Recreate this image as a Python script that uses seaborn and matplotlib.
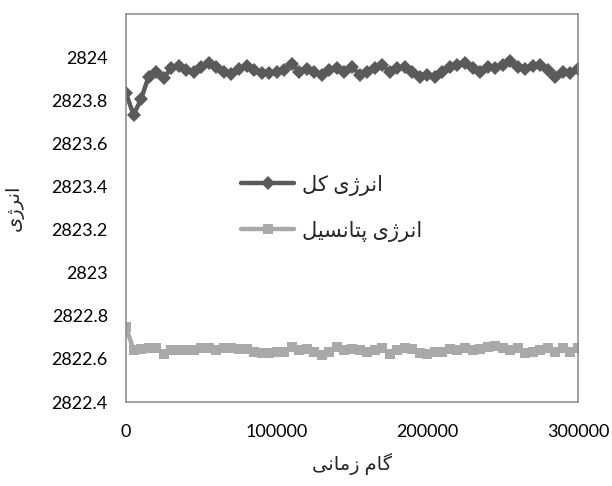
import numpy as np
import pandas as pd
import seaborn as sns
import matplotlib
matplotlib.use("Agg")
import matplotlib.pyplot as plt
from matplotlib.ticker import MultipleLocator

# ---- data -------------------------------------------------------------
steps = list(range(0, 300001, 5000))

total_energy = [
    2823.833, 2823.732, 2823.805, 2823.910, 2823.933, 2823.903, 2823.949,
    2823.960, 2823.941, 2823.933, 2823.956, 2823.972, 2823.954, 2823.933,
    2823.923, 2823.944, 2823.960, 2823.941, 2823.926, 2823.926, 2823.933,
    2823.941, 2823.969, 2823.933, 2823.944, 2823.929, 2823.918, 2823.938,
    2823.949, 2823.929, 2823.956, 2823.918, 2823.933, 2823.949, 2823.964,
    2823.933, 2823.949, 2823.954, 2823.929, 2823.910, 2823.918, 2823.910,
    2823.933, 2823.956, 2823.964, 2823.975, 2823.949, 2823.933, 2823.956,
    2823.949, 2823.964, 2823.980, 2823.956, 2823.944, 2823.960, 2823.964,
    2823.938, 2823.910, 2823.933, 2823.926, 2823.944,
]

potential_energy = [
    2822.748, 2822.642, 2822.646, 2822.650, 2822.650, 2822.624, 2822.639,
    2822.639, 2822.642, 2822.642, 2822.650, 2822.650, 2822.642, 2822.650,
    2822.650, 2822.646, 2822.646, 2822.630, 2822.627, 2822.627, 2822.630,
    2822.634, 2822.655, 2822.642, 2822.646, 2822.630, 2822.619, 2822.634,
    2822.655, 2822.642, 2822.646, 2822.639, 2822.634, 2822.642, 2822.650,
    2822.624, 2822.639, 2822.650, 2822.646, 2822.627, 2822.624, 2822.630,
    2822.634, 2822.646, 2822.639, 2822.650, 2822.642, 2822.646, 2822.655,
    2822.658, 2822.650, 2822.639, 2822.650, 2822.627, 2822.634, 2822.642,
    2822.650, 2822.634, 2822.650, 2822.634, 2822.650,
]

label_total = "انرژی کل"
label_potential = "انرژی پتانسیل"
x_title = "گام زمانی"
y_title = "انرژی"

x_ticks = [0, 100000, 200000, 300000]
y_ticks = [2822.4, 2822.6, 2822.8, 2823.0, 2823.2, 2823.4, 2823.6, 2823.8, 2824.0]
y_tick_labels = ["2822.4", "2822.6", "2822.8", "2823", "2823.2",
                 "2823.4", "2823.6", "2823.8", "2824"]

# ---- minimal Persian shaping (contextual forms + right-to-left order) ---
# letter: (isolated, final, initial, medial); None where the form is absent
FORMS = {
    "ا": ("\uFE8D", "\uFE8E", None, None),
    "ر": ("\uFEAD", "\uFEAE", None, None),
    "ز": ("\uFEAF", "\uFEB0", None, None),
    "ژ": ("\uFB8A", "\uFB8B", None, None),
    "ن": ("\uFEE5", "\uFEE6", "\uFEE7", "\uFEE8"),
    "ی": ("\uFBFC", "\uFBFD", "\uFBFE", "\uFBFF"),
    "ک": ("\uFB8E", "\uFB8F", "\uFB90", "\uFB91"),
    "ل": ("\uFEDD", "\uFEDE", "\uFEDF", "\uFEE0"),
    "پ": ("\uFB56", "\uFB57", "\uFB58", "\uFB59"),
    "ت": ("\uFE95", "\uFE96", "\uFE97", "\uFE98"),
    "س": ("\uFEB1", "\uFEB2", "\uFEB3", "\uFEB4"),
    "م": ("\uFEE1", "\uFEE2", "\uFEE3", "\uFEE4"),
    "گ": ("\uFB92", "\uFB93", "\uFB94", "\uFB95"),
}


def joins_forward(ch):
    return ch in FORMS and FORMS[ch][2] is not None


def shape(text):
    out = []
    for i, ch in enumerate(text):
        if ch not in FORMS:
            out.append(ch)
            continue
        prev = text[i - 1] if i > 0 else ""
        nxt = text[i + 1] if i + 1 < len(text) else ""
        link_prev = joins_forward(prev)
        link_next = joins_forward(ch) and nxt in FORMS
        iso, fin, ini, med = FORMS[ch]
        if link_prev and link_next:
            out.append(med)
        elif link_prev:
            out.append(fin)
        elif link_next:
            out.append(ini)
        else:
            out.append(iso)
    return "".join(out)[::-1]


# ---- figure -------------------------------------------------------------
sns.set_theme(style="white")
plt.rcParams["font.family"] = ["Lato", "DejaVu Sans"]

df = pd.DataFrame({
    "step": steps * 2,
    "energy": total_energy + potential_energy,
    "series": [label_total] * len(steps) + [label_potential] * len(steps),
})

fig = plt.figure(figsize=(6.12, 4.86), dpi=100)
ax = fig.add_axes([126 / 612, 1 - 402 / 486, 452 / 612, 388 / 486])

sns.lineplot(data=df[df.series == label_total], x="step", y="energy",
             color="#5a5a5a", lw=3.2, marker="D", markersize=7,
             markeredgewidth=0, label=shape(label_total), ax=ax)
sns.lineplot(data=df[df.series == label_potential], x="step", y="energy",
             color="#a9a9a9", lw=3.2, marker="s", markersize=7,
             markeredgewidth=0, label=shape(label_potential), ax=ax)

ax.set_xlim(0, 300000)
ax.set_ylim(2822.4, 2824.2)
ax.set_xticks(x_ticks)
ax.set_xticklabels([str(t) for t in x_ticks])
ax.xaxis.set_minor_locator(MultipleLocator(20000))
ax.set_yticks(y_ticks)
ax.set_yticklabels(y_tick_labels)

ax.tick_params(axis="both", which="both", direction="in", colors="#868686",
               labelcolor="black", labelsize=13)
ax.tick_params(axis="x", which="major", length=5, width=1, pad=16)
ax.tick_params(axis="x", which="minor", length=4, width=1)
ax.tick_params(axis="y", which="major", length=5, width=1, pad=13)
ax.tick_params(top=False, right=False)

for side in ax.spines.values():
    side.set_visible(True)
    side.set_color("#868686")
    side.set_linewidth(1.1)

ax.set_xlabel(shape(x_title), fontsize=14, labelpad=9)
ax.set_ylabel(shape(y_title), fontsize=14, labelpad=20)

leg = ax.legend(loc="center left", bbox_to_anchor=(0.232, 0.50),
                frameon=False, fontsize=15, handlelength=2.55,
                handletextpad=0.35, labelspacing=1.2, borderpad=0)

fig.savefig("out.png", dpi=100)
